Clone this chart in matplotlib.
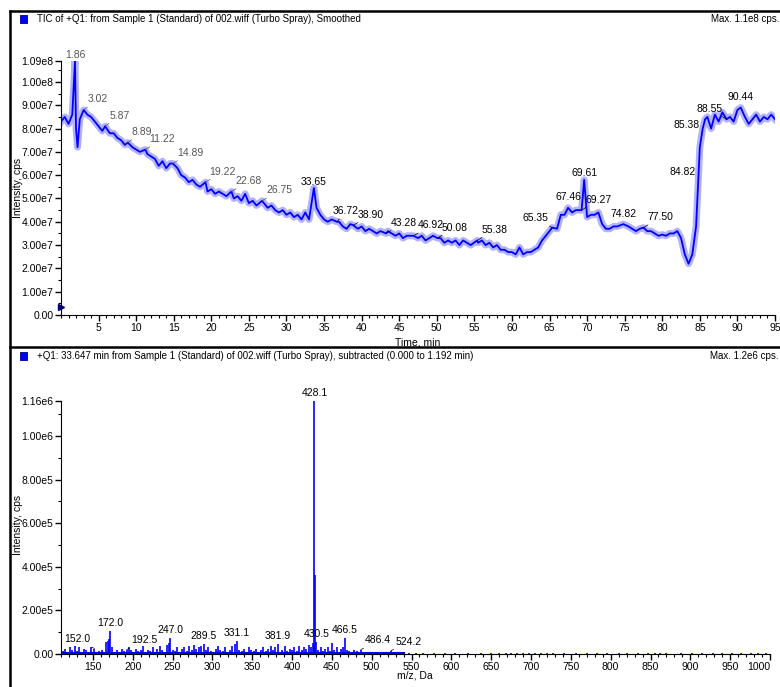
import numpy as np
import matplotlib
matplotlib.use('Agg')
import matplotlib.pyplot as plt
from matplotlib.ticker import FixedLocator, MultipleLocator
from matplotlib.lines import Line2D
from matplotlib.patches import Rectangle

plt.rcParams['font.family'] = ['Liberation Sans Narrow', 'Liberation Sans', 'DejaVu Sans']

BLUE = '#0000ff'

# ---- TIC trace (time in min, intensity in 1e7 cps) ----
TIC_TIME = [0, 0.5, 1.0, 1.5, 1.86, 2.0, 2.2, 2.5, 3.02, 3.5, 4.0, 4.5, 5.0, 5.5, 5.87, 6.5,
            7.0, 7.5, 8.0, 8.5, 8.89, 9.5, 10.0, 10.5, 11.22, 11.5, 12.0, 12.5, 13.0, 13.5,
            14.0, 14.5, 14.89, 15.5, 16.0, 16.5, 17.0, 17.5, 18.0, 18.5, 19.22, 19.5, 20.0,
            20.5, 21.0, 21.5, 22.0, 22.68, 23.0, 23.5, 24.0, 24.5, 25.0, 25.5, 26.0, 26.75,
            27.0, 27.5, 28.0, 28.5, 29.0, 29.5, 30.0, 30.5, 31.0, 31.5, 32.0, 32.5, 33.0,
            33.65, 34.0, 34.5, 35.0, 35.5, 36.0, 36.72, 37.0, 37.5, 38.0, 38.5, 38.9, 39.5,
            40.0, 40.5, 41.0, 41.5, 42.0, 42.5, 43.28, 43.5, 44.0, 44.5, 45.0, 45.5, 46.0,
            46.92, 47.5, 48.0, 48.5, 49.0, 49.5, 50.08, 50.5, 51.0, 51.5, 52.0, 52.5, 53.0,
            53.5, 54.0, 54.5, 55.38, 55.5, 56.0, 56.5, 57.0, 57.5, 58.0, 58.5, 59.0, 59.5,
            60.0, 60.5, 61.0, 61.5, 62.0, 62.5, 63.0, 63.5, 64.0, 64.5, 65.0, 65.35, 66.0,
            66.5, 67.0, 67.46, 68.0, 68.5, 69.0, 69.27, 69.61, 70.0, 70.5, 71.0, 71.5, 72.0,
            72.5, 73.0, 73.5, 74.0, 74.82, 75.5, 76.0, 76.5, 77.0, 77.5, 78.0, 78.5, 79.0,
            79.5, 80.0, 80.5, 81.0, 81.5, 82.0, 82.5, 83.0, 83.5, 84.0, 84.5, 84.82, 85.0,
            85.38, 85.7, 86.0, 86.5, 87.0, 87.5, 88.0, 88.55, 89.0, 89.5, 90.0, 90.44, 91.0,
            91.5, 92.0, 92.5, 93.0, 93.5, 94.0, 94.5, 95.0]
TIC_INT = [8.3, 8.5, 8.2, 8.6, 10.9, 8.0, 7.2, 8.4, 8.8, 8.6, 8.5, 8.3, 8.1, 7.9, 8.1, 7.8,
           7.8, 7.6, 7.5, 7.3, 7.4, 7.2, 7.1, 7.0, 7.1, 6.9, 6.8, 6.7, 6.4, 6.6,
           6.3, 6.5, 6.5, 6.3, 6.0, 5.9, 5.7, 5.8, 5.6, 5.5, 5.7, 5.3, 5.4,
           5.2, 5.3, 5.2, 5.1, 5.3, 5.0, 5.1, 4.9, 5.2, 4.8, 4.9, 4.7, 4.9,
           4.8, 4.6, 4.7, 4.5, 4.4, 4.5, 4.3, 4.4, 4.2, 4.3, 4.1, 4.4, 4.1,
           5.45, 4.6, 4.3, 4.1, 4.0, 4.1, 4.0, 4.0, 3.8, 3.7, 3.9, 3.85, 3.7,
           3.8, 3.6, 3.7, 3.6, 3.5, 3.6, 3.5, 3.6, 3.5, 3.4, 3.5, 3.3, 3.4,
           3.4, 3.3, 3.4, 3.2, 3.3, 3.4, 3.3, 3.3, 3.1, 3.2, 3.1, 3.2, 3.0,
           3.2, 3.1, 3.0, 3.2, 3.1, 3.2, 3.0, 3.1, 2.9, 3.0, 2.8, 2.8, 2.7,
           2.7, 2.6, 2.9, 2.6, 2.7, 2.7, 2.8, 2.9, 3.2, 3.4, 3.6, 3.75, 3.7,
           4.3, 4.3, 4.6, 4.4, 4.5, 4.5, 4.5, 5.8, 4.2, 4.3, 4.3, 4.4, 3.9,
           3.7, 3.7, 3.8, 3.8, 3.9, 3.8, 3.7, 3.6, 3.7, 3.75, 3.6, 3.6, 3.5,
           3.4, 3.45, 3.4, 3.5, 3.5, 3.6, 3.3, 2.6, 2.2, 2.6, 3.8, 6.0, 7.2,
           8.0, 8.4, 8.5, 8.0, 8.6, 8.3, 8.7, 8.4, 8.5, 8.3, 8.8, 8.9, 8.5,
           8.2, 8.4, 8.6, 8.3, 8.5, 8.4, 8.6, 8.4]

TIC_PEAKS = ['1.86', '3.02', '5.87', '8.89', '11.22', '14.89', '19.22', '22.68', '26.75',
             '33.65', '36.72', '38.90', '43.28', '46.92', '50.08', '55.38', '65.35', '67.46',
             '69.27', '69.61', '74.82', '77.50', '84.82', '85.38', '88.55', '90.44']
TIC_YTICKS = [0, 1, 2, 3, 4, 5, 6, 7, 8, 9, 10, 10.9]
TIC_YLABELS = ['0.00', '1.00e7', '2.00e7', '3.00e7', '4.00e7', '5.00e7', '6.00e7', '7.00e7',
               '8.00e7', '9.00e7', '1.00e8', '1.09e8']

# ---- mass spectrum (m/z, intensity in 1e5 cps) ----
MS_MZ = [112, 115, 118, 121, 124, 127, 130, 133, 136, 139, 142, 145, 148, 152.0, 155, 158,
         161, 164, 167, 168.5, 170, 172.0, 174, 177, 180, 183, 186, 189, 192.5, 195, 198,
         201, 204, 207, 210, 213, 216, 219, 222, 225, 228, 231, 234, 237, 240, 243, 245,
         247.0, 250, 253, 256, 259, 262, 265, 268, 271, 274, 277, 280, 283, 286, 289.5,
         292, 295, 298, 301, 304, 307, 310, 313, 316, 319, 322, 325, 328, 331.1, 334, 337,
         340, 343, 346, 349, 352, 355, 358, 361, 364, 367, 370, 373, 376, 379, 381.9, 385,
         388, 391, 394, 397, 400, 403, 406, 409, 412, 415, 418, 421, 424, 426, 428.1, 428.6,
         430.5, 433, 436, 439, 442, 445, 448, 450, 453, 456, 459, 462, 464, 466.5, 469, 472,
         475, 478, 481, 484, 486.4, 490, 495, 500, 505, 510, 515, 520, 524.2, 530, 535, 540,
         547, 556, 565, 578, 592, 605, 621, 637, 650, 660, 668, 675, 683, 690, 697, 705, 713,
         720, 728, 742, 757, 770, 783, 795, 811, 820, 834, 847, 856, 862, 870, 888, 902, 915,
         929, 940, 952, 963, 976, 985, 995]
MS_INT = [0.15, 0.25, 0.1, 0.3, 0.2, 0.35, 0.15, 0.3, 0.1, 0.25, 0.2, 0.1, 0.3, 0.25, 0.1, 0.15,
          0.2, 0.1, 0.55, 0.6, 0.7, 1.05, 0.3, 0.1, 0.2, 0.1, 0.25, 0.15, 0.2, 0.3, 0.2,
          0.1, 0.25, 0.15, 0.2, 0.35, 0.1, 0.2, 0.15, 0.3, 0.1, 0.25, 0.35, 0.2, 0.1, 0.4, 0.5,
          0.75, 0.2, 0.15, 0.3, 0.1, 0.25, 0.3, 0.15, 0.35, 0.2, 0.4, 0.25, 0.3, 0.35, 0.45,
          0.2, 0.3, 0.15, 0.1, 0.25, 0.35, 0.2, 0.15, 0.3, 0.1, 0.2, 0.35, 0.45, 0.6, 0.2, 0.15,
          0.25, 0.1, 0.3, 0.2, 0.15, 0.25, 0.1, 0.2, 0.3, 0.15, 0.25, 0.35, 0.2, 0.3, 0.45, 0.1,
          0.2, 0.35, 0.15, 0.25, 0.2, 0.3, 0.15, 0.35, 0.2, 0.3, 0.25, 0.4, 0.3, 0.5, 11.6, 3.6,
          0.55, 0.2, 0.3, 0.15, 0.25, 0.3, 0.15, 0.5, 0.2, 0.3, 0.1, 0.25, 0.3, 0.75, 0.2, 0.15,
          0.1, 0.2, 0.15, 0.1, 0.2, 0.05, 0.1, 0.05, 0.08, 0.05, 0.06, 0.05, 0.15, 0.06, 0.04, 0.05,
          0.04, 0.05, 0.04, 0.05, 0.04, 0.05, 0.04, 0.05, 0.06, 0.05, 0.06, 0.05, 0.06, 0.05, 0.04, 0.05, 0.04,
          0.05, 0.04, 0.05, 0.04, 0.05, 0.04, 0.05, 0.04, 0.05, 0.04, 0.05, 0.04, 0.05, 0.04, 0.05, 0.04, 0.05,
          0.04, 0.05, 0.04, 0.05, 0.04, 0.05, 0.04]
MS_PEAKS = ['152.0', '172.0', '192.5', '247.0', '289.5', '331.1', '381.9', '428.1', '430.5',
            '466.5', '486.4', '524.2']
MS_YTICKS = [0, 2, 4, 6, 8, 10, 11.6]
MS_YLABELS = ['0.00', '2.00e5', '4.00e5', '6.00e5', '8.00e5', '1.00e6', '1.16e6']

# label placement: (dx, dy in points, ha, hook)
TIC_PLACE = {'1.86': (0, 1, 'center', False), '33.65': (0, 1, 'center', False),
             '67.46': (0, 4, 'center', False), '69.61': (0, 1, 'center', False),
             '74.82': (0, 4, 'center', False), '90.44': (0, 4, 'center', False),
             '65.35': (-3, 3, 'right', True), '84.82': (-2, -1, 'right', True),
             '85.38': (-2, -1, 'right', True), '88.55': (-3, 4, 'right', True),
             '36.72': (-3, 4, 'left', True)}
MS_PLACE = {'152.0': (-3, 3, 'right', True), '192.5': (3, 3, 'left', True),
            '486.4': (3, 3, 'left', True), '524.2': (3, 3, 'left', True)}

fig = plt.figure(figsize=(7.8, 6.87), dpi=100)
W, H = 780.0, 687.0

# panel frames
fig.add_artist(Line2D([10 / W, 1], [1 - 11 / H, 1 - 11 / H], color='black', lw=1.8))
fig.add_artist(Line2D([10 / W, 10 / W], [0, 1 - 11 / H], color='black', lw=1.8))
fig.add_artist(Line2D([10 / W, 1], [1 - 347 / H, 1 - 347 / H], color='black', lw=1.8))

fs = 7.5


def header(y, title, maxtxt):
    fig.add_artist(Rectangle((20 / W, 1 - (y + 4) / H), 7 / W, 8 / H, facecolor=BLUE,
                             edgecolor='#000080', lw=0.6))
    fig.text(37 / W, 1 - y / H, title, fontsize=7, va='center', ha='left')
    fig.text(779 / W, 1 - y / H, maxtxt, fontsize=7, va='center', ha='right')


header(19, 'TIC of +Q1: from Sample 1 (Standard) of 002.wiff (Turbo Spray), Smoothed',
       'Max. 1.1e8 cps.')
header(356, '+Q1: 33.647 min from Sample 1 (Standard) of 002.wiff (Turbo Spray), '
            'subtracted (0.000 to 1.192 min)', 'Max. 1.2e6 cps.')


def style(ax):
    for s in ['top', 'right']:
        ax.spines[s].set_visible(False)
    ax.tick_params(which='major', length=4, width=1, labelsize=fs, pad=1.5)
    ax.tick_params(which='minor', length=2, width=0.8)


# ---- top: TIC ----
ax1 = fig.add_axes([61 / W, 1 - 315 / H, 714 / W, 254 / H])
tt = np.array(TIC_TIME)
ii = np.array(TIC_INT)
ax1.plot(tt, ii, color=BLUE, lw=5, alpha=0.3, solid_joinstyle='round')
ax1.plot(tt, ii, color=BLUE, lw=1.3)
ax1.set_xlim(0, 95)
ax1.set_ylim(0, 10.9)
ax1.xaxis.set_major_locator(FixedLocator(list(range(5, 96, 5))))
ax1.xaxis.set_minor_locator(MultipleLocator(1))
ax1.yaxis.set_major_locator(FixedLocator(TIC_YTICKS))
ax1.set_yticklabels(TIC_YLABELS)
ax1.yaxis.set_minor_locator(MultipleLocator(0.5))
style(ax1)
ax1.plot([0.05], [0.35], marker='>', color='#000080', ms=5, clip_on=False)
for p in TIC_PEAKS:
    t = float(p)
    y = np.interp(t, tt, ii)
    col = '#555555' if t < 30 else 'black'
    dx, dy, ha, hook = TIC_PLACE.get(p, (3, 4, 'left', True))
    ax1.annotate(p, xy=(t, y), xytext=(dx, dy), textcoords='offset points', ha=ha,
                 va='bottom', fontsize=fs, color=col, annotation_clip=False,
                 arrowprops=dict(arrowstyle='-', lw=0.5, shrinkA=0, shrinkB=0,
                                 color=col) if hook else None)
fig.text(418 / W, 1 - 342 / H, 'Time, min', fontsize=fs, ha='center', va='center')
fig.text(18 / W, 1 - 188 / H, 'Intensity, cps', fontsize=fs, ha='center', va='center',
         rotation=90)

# ---- bottom: spectrum ----
ax2 = fig.add_axes([61 / W, 1 - 654 / H, 709 / W, 253 / H])
mz = np.array(MS_MZ)
mi = np.array(MS_INT)
ax2.vlines(mz, 0, mi, color=BLUE, lw=1.2)
ax2.plot([110, 540], [0.05, 0.05], color=BLUE, lw=1.5)
ax2.set_xlim(110, 1000)
ax2.set_ylim(0, 11.6)
ax2.xaxis.set_major_locator(FixedLocator(list(range(150, 1001, 50))))
ax2.xaxis.set_minor_locator(MultipleLocator(10))
ax2.yaxis.set_major_locator(FixedLocator(MS_YTICKS))
ax2.set_yticklabels(MS_YLABELS)
ax2.yaxis.set_minor_locator(MultipleLocator(1))
style(ax2)
for p in MS_PEAKS:
    m = float(p)
    y = mi[np.argmin(np.abs(mz - m))]
    dx, dy, ha, hook = MS_PLACE.get(p, (0, 2, 'center', False))
    ax2.annotate(p, xy=(m, y), xytext=(dx, dy), textcoords='offset points', ha=ha,
                 va='bottom', fontsize=fs, annotation_clip=False,
                 arrowprops=dict(arrowstyle='-', lw=0.5, shrinkA=0, shrinkB=0) if hook else None)
ax2.get_xticklabels()[-1].set_horizontalalignment('right')
fig.text(415 / W, 1 - 676 / H, 'm/z, Da', fontsize=fs, ha='center', va='center')
fig.text(18 / W, 1 - 525 / H, 'Intensity, cps', fontsize=fs, ha='center', va='center',
         rotation=90)

fig.savefig('out.png', dpi=100)
